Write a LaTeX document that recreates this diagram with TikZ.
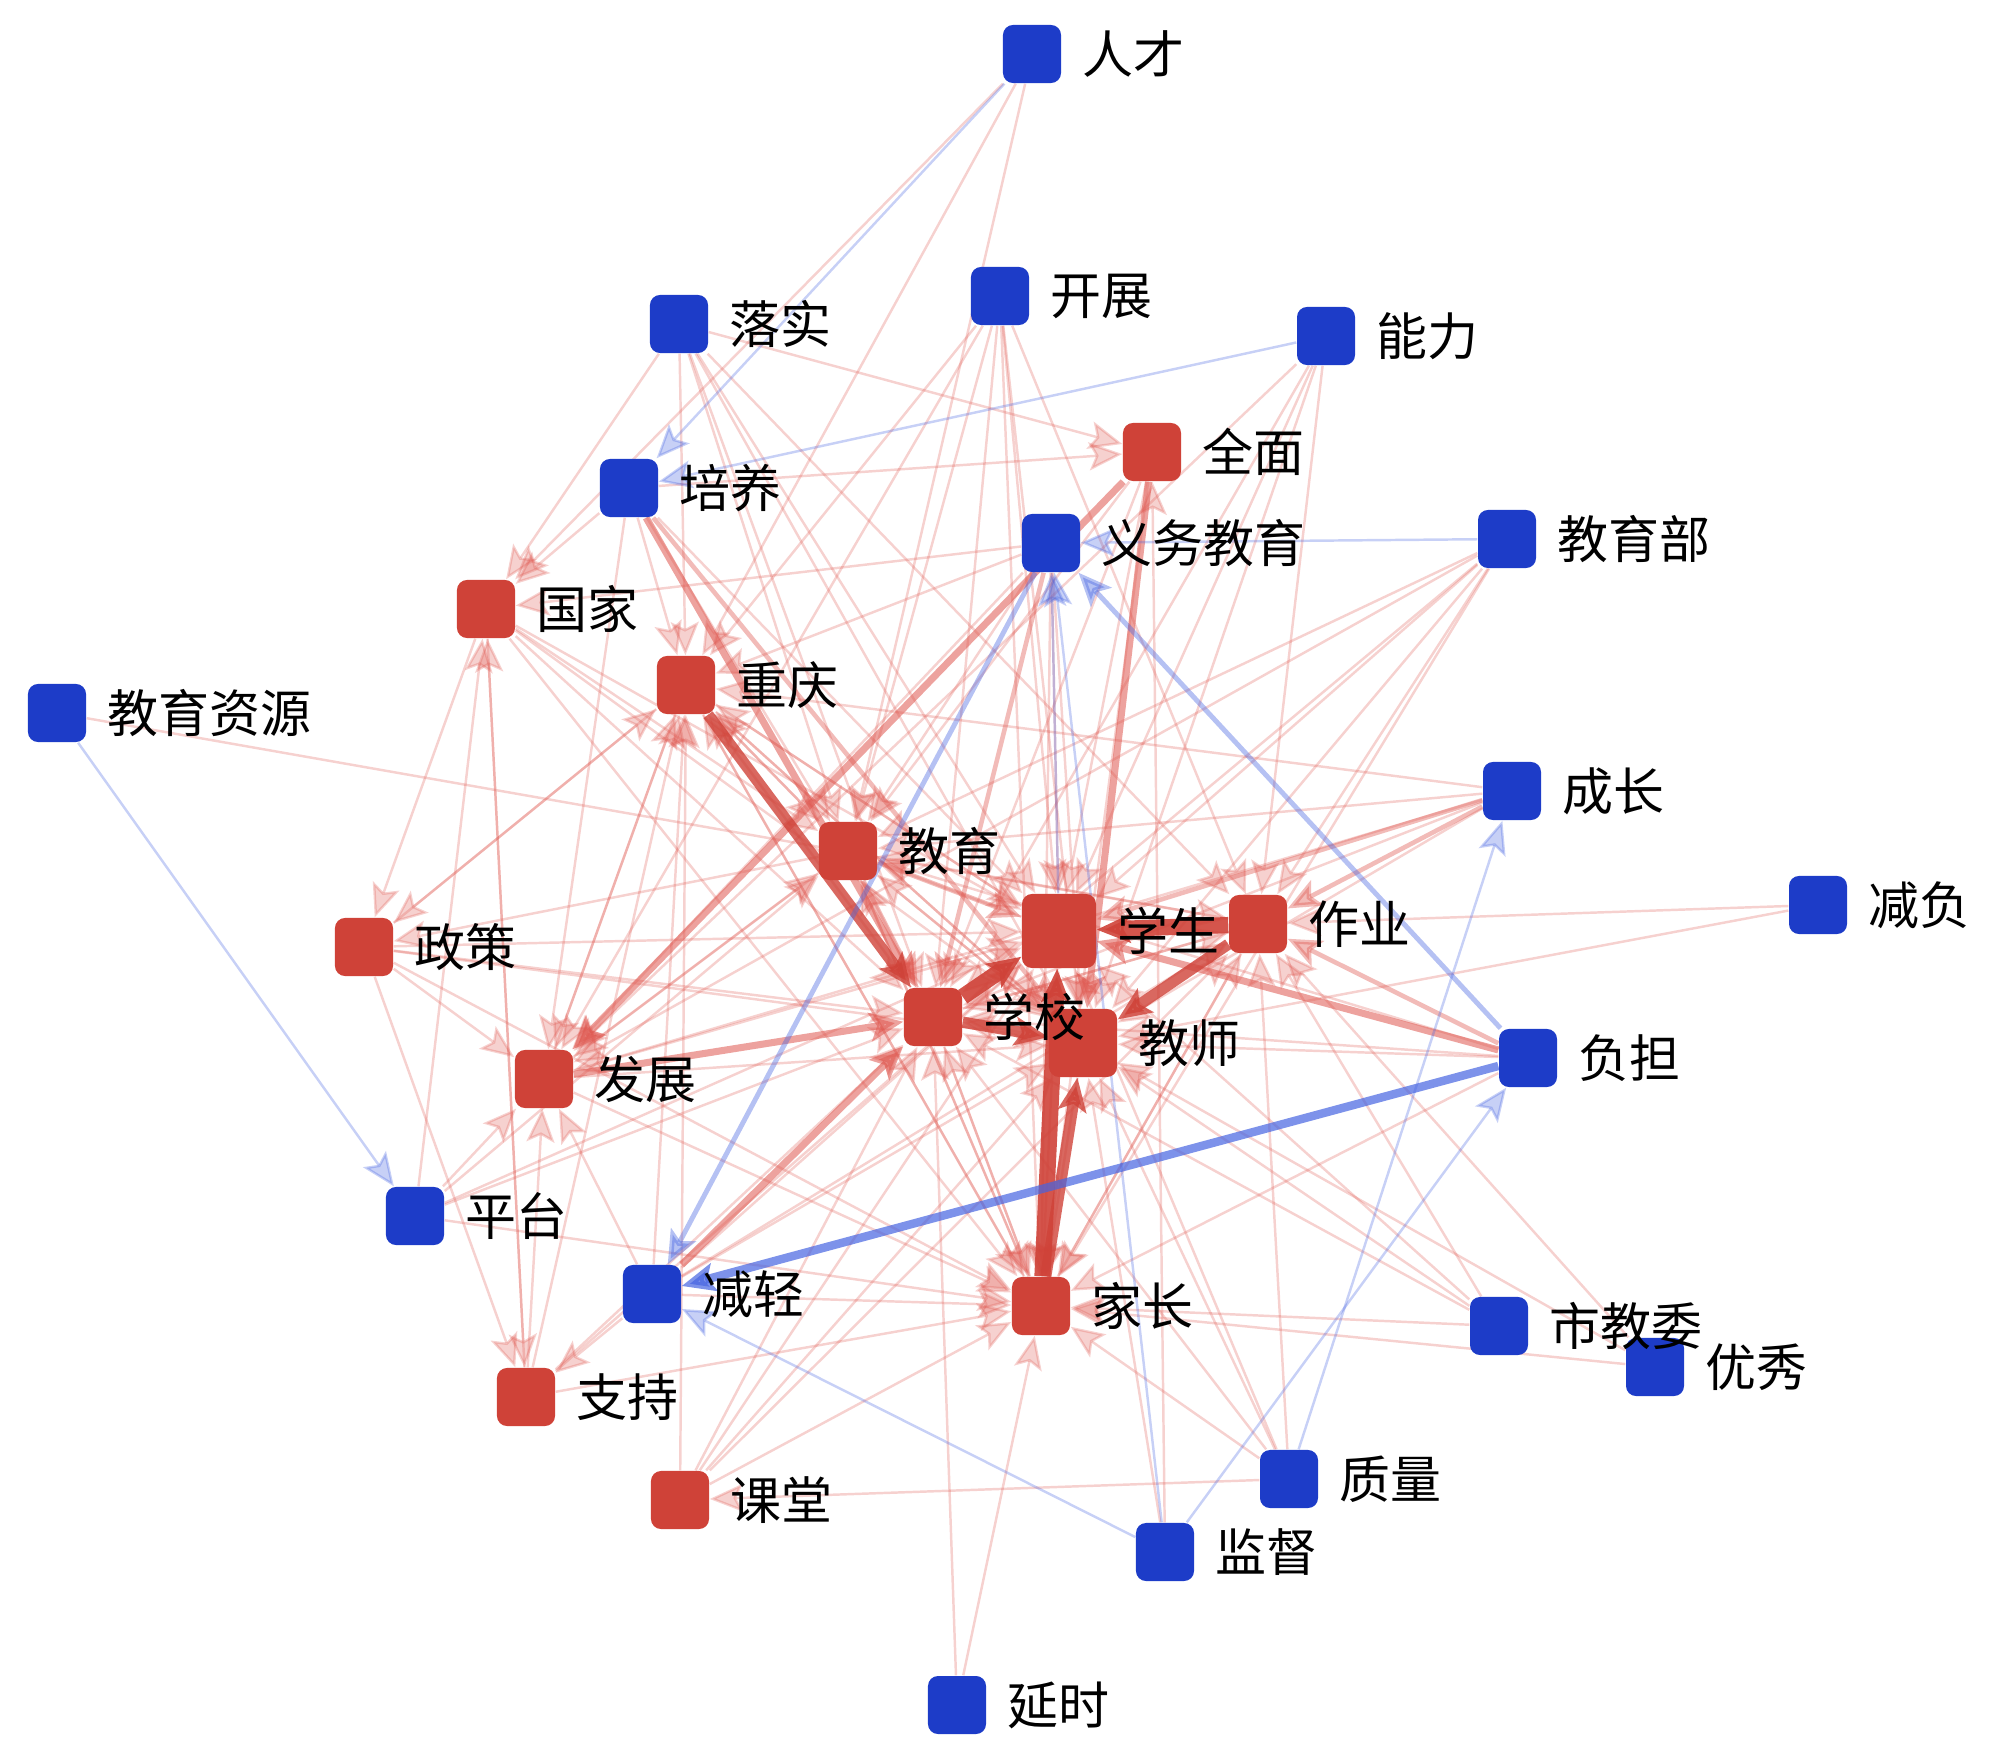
\documentclass[tikz,border=0pt]{standalone}
\usepackage{fontspec}
\newfontfamily\cjk{Noto Sans CJK SC}
\usetikzlibrary{arrows.meta,positioning,backgrounds}
\definecolor{kwred}{RGB}{207,66,56}
\definecolor{kwblue}{RGB}{29,60,200}
\definecolor{ered}{RGB}{222,86,78}
\definecolor{eblue}{RGB}{70,100,225}

\begin{document}
\begin{tikzpicture}[
  x=0.01cm, y=-0.01cm,
  font=\cjk\fontsize{14.5}{17}\selectfont,
  >={Stealth[length=9.5pt, width=8pt, inset=2pt]},
  rkw/.style={rectangle, fill=kwred, rounded corners=0.1cm, minimum size=0.58cm, inner sep=0pt},
  bkw/.style={rectangle, fill=kwblue, rounded corners=0.1cm, minimum size=0.58cm, inner sep=0pt},
  midkw/.style={rkw, minimum size=0.68cm},
  bigkw/.style={rkw, minimum size=0.74cm},
  lab/.style={inner sep=0pt, text=black},
  rl/.style={->, ered, line width=0.7pt, opacity=0.27},
  rml/.style={->, ered, line width=1.3pt, opacity=0.4},
  rm/.style={->, ered, line width=2pt, opacity=0.55},
  rt/.style={->, kwred, line width=3.2pt, opacity=0.8},
  rx/.style={->, kwred, line width=4.6pt, opacity=0.9},
  bl/.style={->, eblue, line width=0.7pt, opacity=0.3},
  bml/.style={->, eblue, line width=1.4pt, opacity=0.4},
  bm/.style={->, eblue, line width=2.4pt, opacity=0.7}
]
\useasboundingbox (0,0) rectangle (2000,1761);

% --- keywords --------------------------------------------------------------
\foreach \n/\x/\y/\s/\t in {
  rencai/1032/54/bkw/人才, luoshi/679/324/bkw/落实, kaizhan/1000/296/bkw/开展,
  nengli/1326/336/bkw/能力, quanmian/1152/452/rkw/全面, peiyang/629/488/bkw/培养,
  yiwu/1051/543/bkw/义务教育, jyb/1507/539/bkw/教育部, guojia/486/609/rkw/国家,
  chongqing/686/685/rkw/重庆, ziyuan/57/713/bkw/教育资源, chengzhang/1512/791/bkw/成长,
  jiaoyu/848/851/rkw/教育, jianfu/1818/905/bkw/减负, xuesheng/1059/931/bigkw/学生,
  zuoye/1258/924/rkw/作业, zhengce/364/947/rkw/政策, jiaoshi/1083/1043/midkw/教师,
  xuexiao/933/1017/rkw/学校, fudan/1528/1058/bkw/负担, fazhan/544/1079/rkw/发展,
  pingtai/415/1216/bkw/平台, jianqing/652/1294/bkw/减轻, jiazhang/1041/1306/rkw/家长,
  youxiu/1655/1367/bkw/优秀, shijw/1499/1326/bkw/市教委, zhichi/526/1397/rkw/支持,
  zhiliang/1289/1479/bkw/质量, ketang/680/1500/rkw/课堂, jiandu/1165/1552/bkw/监督,
  yanshi/957/1705/bkw/延时}
{
  \node[\s] (\n) at (\x,\y) {};
  \node[lab, right=0.2cm of \n] (\n-t) {\t};
}

% --- co-occurrence links ---------------------------------------------------
\begin{scope}[on background layer]
\foreach \a/\b in {
  rencai/guojia, rencai/chongqing, rencai/jiaoyu,
  luoshi/guojia, luoshi/chongqing, luoshi/quanmian, luoshi/jiaoyu, luoshi/xuesheng,
  luoshi/xuexiao, luoshi/jiaoshi, luoshi/zuoye,
  kaizhan/chongqing, kaizhan/jiaoyu, kaizhan/xuexiao, kaizhan/xuesheng, kaizhan/jiaoshi,
  kaizhan/jiazhang, kaizhan/zuoye, kaizhan/fazhan,
  nengli/zuoye, nengli/xuesheng, nengli/jiaoshi, nengli/xuexiao, nengli/fazhan,
  quanmian/xuesheng, quanmian/xuexiao, quanmian/jiaoyu, quanmian/jiazhang,
  peiyang/quanmian, peiyang/guojia, peiyang/chongqing, peiyang/fazhan, peiyang/xuesheng,
  peiyang/jiaoyu,
  yiwu/guojia, yiwu/chongqing, yiwu/jiaoyu, yiwu/xuesheng, yiwu/jiazhang, yiwu/fazhan,
  yiwu/jiaoshi,
  jyb/xuesheng, jyb/xuexiao, jyb/jiaoshi, jyb/jiaoyu, jyb/fazhan, jyb/zuoye, jyb/jiazhang,
  guojia/zhengce, guojia/zhichi, guojia/xuexiao, guojia/jiaoyu, guojia/xuesheng,
  guojia/jiaoshi, guojia/jiazhang,
  chongqing/jiaoyu, chongqing/xuesheng, chongqing/jiaoshi, chongqing/jiazhang,
  chongqing/zhengce, chongqing/fazhan,
  ziyuan/zuoye,
  chengzhang/jiaoyu, chengzhang/xuexiao, chengzhang/jiaoshi, chengzhang/chongqing,
  chengzhang/fazhan,
  jianfu/zuoye, jianfu/jiaoshi,
  fudan/jiaoshi, fudan/xuexiao, fudan/jiazhang, fudan/jiaoyu,
  shijw/zuoye, shijw/jiaoshi, shijw/xuexiao, shijw/xuesheng, shijw/jiazhang,
  youxiu/jiazhang, youxiu/zuoye, youxiu/jiaoshi,
  zhiliang/ketang, zhiliang/zuoye, zhiliang/xuesheng, zhiliang/jiaoshi, zhiliang/xuexiao,
  zhiliang/jiazhang,
  jiandu/jiaoshi, jiandu/quanmian,
  yanshi/jiazhang, yanshi/xuexiao,
  ketang/chongqing, ketang/xuexiao, ketang/xuesheng, ketang/jiaoshi, ketang/jiazhang,
  ketang/zuoye,
  zhichi/guojia, zhichi/xuexiao, zhichi/xuesheng, zhichi/chongqing, zhichi/fazhan,
  zhichi/jiazhang,
  pingtai/guojia, pingtai/xuexiao, pingtai/xuesheng, pingtai/jiaoyu, pingtai/fazhan,
  pingtai/jiazhang,
  zhengce/xuexiao, zhengce/fazhan, zhengce/zhichi, zhengce/xuesheng, zhengce/jiaoshi,
  zhengce/jiazhang, zhengce/chongqing,
  fazhan/xuesheng, fazhan/jiaoshi, fazhan/jiazhang, fazhan/chongqing, fazhan/jiaoyu,
  jianqing/xuesheng, jianqing/jiaoshi, jianqing/jiazhang, jianqing/chongqing,
  jianqing/zhichi, jianqing/zuoye, jianqing/fazhan,
  jiazhang/xuexiao, jiazhang/jiaoyu, jiazhang/chongqing, jiazhang/zuoye,
  xuexiao/jiaoyu, xuexiao/chongqing, xuexiao/jiazhang, xuexiao/zuoye,
  xuesheng/chongqing, xuesheng/jiaoyu, xuesheng/jiazhang,
  jiaoshi/chongqing, jiaoshi/jiaoyu, jiaoshi/xuexiao, jiaoshi/jiazhang,
  jiaoyu/chongqing, jiaoyu/zhengce, jiaoyu/fazhan, jiaoyu/jiaoshi, jiaoyu/jiazhang,
  zuoye/jiazhang, zuoye/xuexiao, zuoye/jiaoyu}
  \draw[rl] (\a) -- (\b);

\foreach \a/\b in {chengzhang/xuesheng, jiaoyu/xuexiao, jiaoyu/xuesheng, fudan/zuoye,
  chengzhang/zuoye, peiyang/jiaoshi, yiwu/xuexiao}
  \draw[rml] (\a) -- (\b);
\foreach \a/\b in {quanmian/fazhan, fazhan/xuexiao, jianqing/xuexiao, fudan/xuesheng,
  peiyang/xuexiao, quanmian/jiaoshi}
  \draw[rm] (\a) -- (\b);
\foreach \a/\b in {zuoye/jiaoshi, xuexiao/jiaoshi, jiazhang/jiaoshi, chongqing/xuexiao}
  \draw[rt] (\a) -- (\b);
\foreach \a/\b in {xuexiao/xuesheng, zuoye/xuesheng, jiazhang/xuesheng}
  \draw[rx] (\a) -- (\b);

% links into blue keywords
\foreach \a/\b in {rencai/peiyang, nengli/peiyang, jyb/yiwu, ziyuan/pingtai,
  jiandu/jianqing, jiandu/fudan, zhiliang/chengzhang, jiandu/yiwu, xuesheng/yiwu}
  \draw[bl] (\a) -- (\b);
\draw[bml] (yiwu) -- (jianqing);
\draw[bml] (fudan) -- (yiwu);
\draw[bm] (fudan) -- (jianqing);
\end{scope}
\end{tikzpicture}
\end{document}
